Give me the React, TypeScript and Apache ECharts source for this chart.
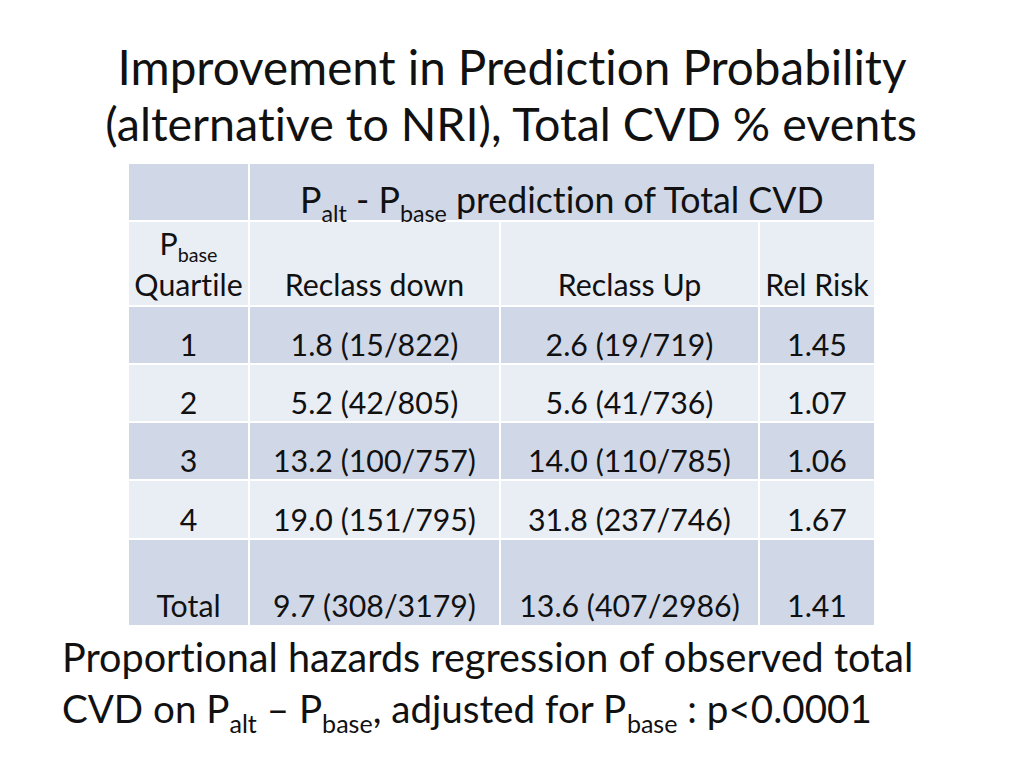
import React, { useEffect, useRef } from 'react';
import * as echarts from 'echarts';

// ---- data ----
const titleLines = ['Improvement in Prediction Probability', '(alternative to NRI), Total CVD % events'];
const quartiles = ['1', '2', '3', '4', 'Total'];
const downPct = [1.8, 5.2, 13.2, 19.0, 9.7];
const downEvents = [15, 42, 100, 151, 308];
const downN = [822, 805, 757, 795, 3179];
const upPct = [2.6, 5.6, 14.0, 31.8, 13.6];
const upEvents = [19, 41, 110, 237, 407];
const upN = [719, 736, 785, 746, 2986];
const relRisk = [1.45, 1.07, 1.06, 1.67, 1.41];
const columnHeaders = ['Reclass down', 'Reclass Up', 'Rel Risk'];
const footerLine1 = 'Proportional hazards regression of observed total';

type Run = [string, boolean];
const headerRuns: Run[] = [['P', false], ['alt', true], [' - P', false], ['base', true], [' prediction of Total CVD', false]];
const quartileHeadRuns: Run[] = [['P', false], ['base', true]];
const footerLine2Runs: Run[] = [
  ['CVD on P', false], ['alt', true], [' \u2013 P', false], ['base', true],
  [', adjusted for P', false], ['base', true], [' : p<0.0001', false],
];

const FONT = 'Lato';
const TEXT = '#111111';
const DARK = '#D0D8E8';
const LIGHT = '#E9EDF4';

export default function App() {
  const ref = useRef<HTMLDivElement>(null);
  useEffect(() => {
    if (!ref.current) return;
    const chart = echarts.init(ref.current, undefined, { renderer: 'svg' });
    const canvas = document.createElement('canvas');
    const ctx = canvas.getContext('2d')!;
    const meas = (t: string, size: number) => {
      ctx.font = `${size}px ${FONT}`;
      return ctx.measureText(t).width;
    };
    const fit = (t: string, target: number) => (target / meas(t, 100)) * 100;
    const K = 0.387;
    const SUB = 0.65;
    const DROP = 0.25;
    const runsWidth = (rs: Run[], size: number) =>
      rs.reduce((a, [t, s]) => a + meas(t, s ? size * SUB : size), 0);

    const els: any[] = [];
    const txt = (t: string, x: number, baseline: number, size: number, align: string) => {
      els.push({
        type: 'text', x, y: baseline - K * size, silent: true,
        style: { text: t, fontSize: size, fontFamily: FONT, fill: TEXT, align, verticalAlign: 'middle' },
      });
    };
    const runs = (rs: Run[], ax: number, align: 'center' | 'left', baseline: number, size: number) => {
      const ws = rs.map(([t, s]) => meas(t, s ? size * SUB : size));
      const total = ws.reduce((a, b) => a + b, 0);
      let x = align === 'center' ? ax - total / 2 : ax;
      rs.forEach(([t, s], i) => {
        const fs = s ? size * SUB : size;
        const lead = t.length - t.replace(/^\s+/, '').length;
        const trimmed = t.trim();
        const off = lead ? meas(t.slice(0, lead), fs) : 0;
        txt(trimmed, x + off, s ? baseline + size * DROP : baseline, fs, 'left');
        x += ws[i];
      });
    };

    const titleSize1 = fit(titleLines[0], 790);
    const titleSize2 = fit(titleLines[1], 814);
    const headerSize = fit('prediction of Total CVD', 370);
    const bodySize = fit('13.2 (100/757)', 203);
    const footSize = fit(footerLine1, 853);
    const footSize2 = (810 / runsWidth(footerLine2Runs, 100)) * 100;

    // table geometry
    const colX = [128, 249, 500, 759, 875];
    const rowY = [163, 221, 306, 364, 422, 480, 539, 626];
    const cell = (x0: number, x1: number, y0: number, y1: number, fill: string) => {
      els.push({ type: 'rect', silent: true, shape: { x: x0 + 1, y: y0 + 1, width: x1 - x0 - 2, height: y1 - y0 - 2 }, style: { fill } });
    };
    cell(colX[0], colX[1], rowY[0], rowY[1], DARK);
    cell(colX[1], colX[4], rowY[0], rowY[1], DARK);
    for (let c = 0; c < 4; c++) cell(colX[c], colX[c + 1], rowY[1], rowY[2], LIGHT);
    for (let r = 0; r < quartiles.length; r++) {
      for (let c = 0; c < 4; c++) cell(colX[c], colX[c + 1], rowY[r + 2], rowY[r + 3], r % 2 === 0 ? DARK : LIGHT);
    }
    const colC = [0, 1, 2, 3].map((c) => (colX[c] + colX[c + 1]) / 2);

    // title
    txt(titleLines[0], 512, 85, titleSize1, 'center');
    txt(titleLines[1], 511, 141, titleSize2, 'center');

    // header
    runs(headerRuns, 563, 'center', 213, headerSize);
    runs(quartileHeadRuns, colC[0], 'center', 255, bodySize);
    txt('Quartile', colC[0], 296, bodySize, 'center');
    columnHeaders.forEach((h, i) => txt(h, colC[i + 1], 296, bodySize, 'center'));

    const baselines = [356, 414, 472, 531, 617];
    quartiles.forEach((q, r) => {
      const b = baselines[r];
      txt(q, colC[0], b, bodySize, 'center');
      txt(`${downPct[r].toFixed(1)} (${downEvents[r]}/${downN[r]})`, colC[1], b, bodySize, 'center');
      txt(`${upPct[r].toFixed(1)} (${upEvents[r]}/${upN[r]})`, colC[2], b, bodySize, 'center');
      txt(relRisk[r].toFixed(2), colC[3], b, bodySize, 'center');
    });

    // footer
    txt(footerLine1, 62, 672, footSize, 'left');
    runs(footerLine2Runs, 62, 'left', 723, footSize2);

    chart.setOption({ animation: false, backgroundColor: '#ffffff', graphic: { elements: els } });
    return () => chart.dispose();
  }, []);
  return (
    <div
      ref={ref}
      style={{ position: 'fixed', left: 0, top: 0, width: 1024, height: 768, background: '#fff', fontVariantLigatures: 'none', fontFeatureSettings: '"liga" 0, "clig" 0' }}
    />
  );
}
